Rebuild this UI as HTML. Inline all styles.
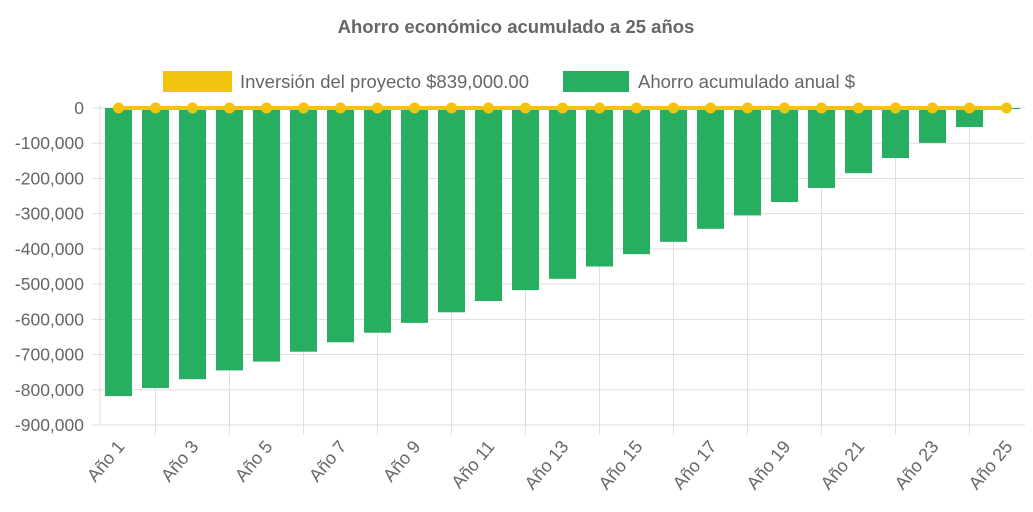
<!DOCTYPE html>
<html><head><meta charset="utf-8"><style>
body{margin:0;background:#fff;}
svg{display:block;font-family:"Liberation Sans",Arial,sans-serif;}
</style></head><body>
<svg id="chart" width="1033" height="512">
<text x="516" y="33" text-anchor="middle" font-size="18.5" font-weight="bold" fill="#666">Ahorro económico acumulado a 25 años</text>
<g>
<rect x="163" y="71" width="69" height="21" fill="#f2c40f"/>
<text x="240" y="88" font-size="18.5" fill="#666">Inversión del proyecto $839,000.00</text>
<rect x="563" y="71" width="66" height="21" fill="#27ae60"/>
<text x="638" y="88" font-size="18.5" fill="#666">Ahorro acumulado anual $</text>
</g>
<g id="grid"></g><g id="bars"></g><g id="line"></g><g id="axes"></g>
</svg>
<script>
const categories=[];for(let i=1;i<=25;i++)categories.push('Año '+i);
const savings=[-818000,-795000,-770000,-745000,-720000,-692000,-665000,-638000,-610000,-580000,-548000,-517000,-485000,-450000,-415000,-380000,-343000,-305000,-267000,-227000,-185000,-142000,-99000,-54000,-3000];
const investment=[0,0,0,0,0,0,0,0,0,0,0,0,0,0,0,0,0,0,0,0,0,0,0,0,0];
const yTicks=[0,-100000,-200000,-300000,-400000,-500000,-600000,-700000,-800000,-900000];
const NS='http://www.w3.org/2000/svg';
const L=100,R=1025,T=108,B=425;
const step=(R-L)/categories.length;
const x=i=>L+step*(i+0.5);
const y=v=>T+(0-v)/900000*(B-T);
function mk(tag,attrs,parent){const e=document.createElementNS(NS,tag);for(const k in attrs)e.setAttribute(k,attrs[k]);document.getElementById(parent).appendChild(e);return e;}
yTicks.forEach(v=>{
 const g=mk('line',{x1:L-8,x2:R,y1:y(v),y2:y(v),stroke:'#dedede','stroke-width':1},'grid');
 
 
 const t=mk('text',{x:L-16,y:y(v)+6,'text-anchor':'end','font-size':17.5,fill:'#666'},'axes');
 t.textContent=v.toLocaleString('en-US');
 
 
});
const ax=mk('line',{x1:L,x2:L,y1:T-3,y2:B,stroke:'#dedede'},'grid');


categories.forEach((c,i)=>{
 if(i%2===1){const g=mk('line',{x1:x(i),x2:x(i),y1:T,y2:B+10,stroke:'#dedede'},'grid');
 
 }
 if(i%2===0){const t=mk('text',{x:0,y:0,'text-anchor':'end','font-size':18,fill:'#666',transform:`translate(${x(i)+7},${B+22}) rotate(-50)`},'axes');
 t.textContent=c;
 
 }
});
savings.forEach((v,i)=>{
 const y0=y(0),y1=y(v);
 const r=mk('rect',{x:x(i)-13.5,y:Math.min(y0,y1),width:27,height:Math.max(1,Math.abs(y1-y0)),fill:'#27ae60'},'bars');
 
 
});
const pts=investment.map((v,i)=>x(i)+','+y(v)).join(' ');
const pl=mk('polyline',{points:pts,fill:'none',stroke:'#f2c40f','stroke-width':4},'line');


investment.forEach((v,i)=>{
 const c=mk('circle',{cx:x(i),cy:y(v),r:5.5,fill:'#f2c40f'},'line');
 
 
});
</script>
</body></html>
